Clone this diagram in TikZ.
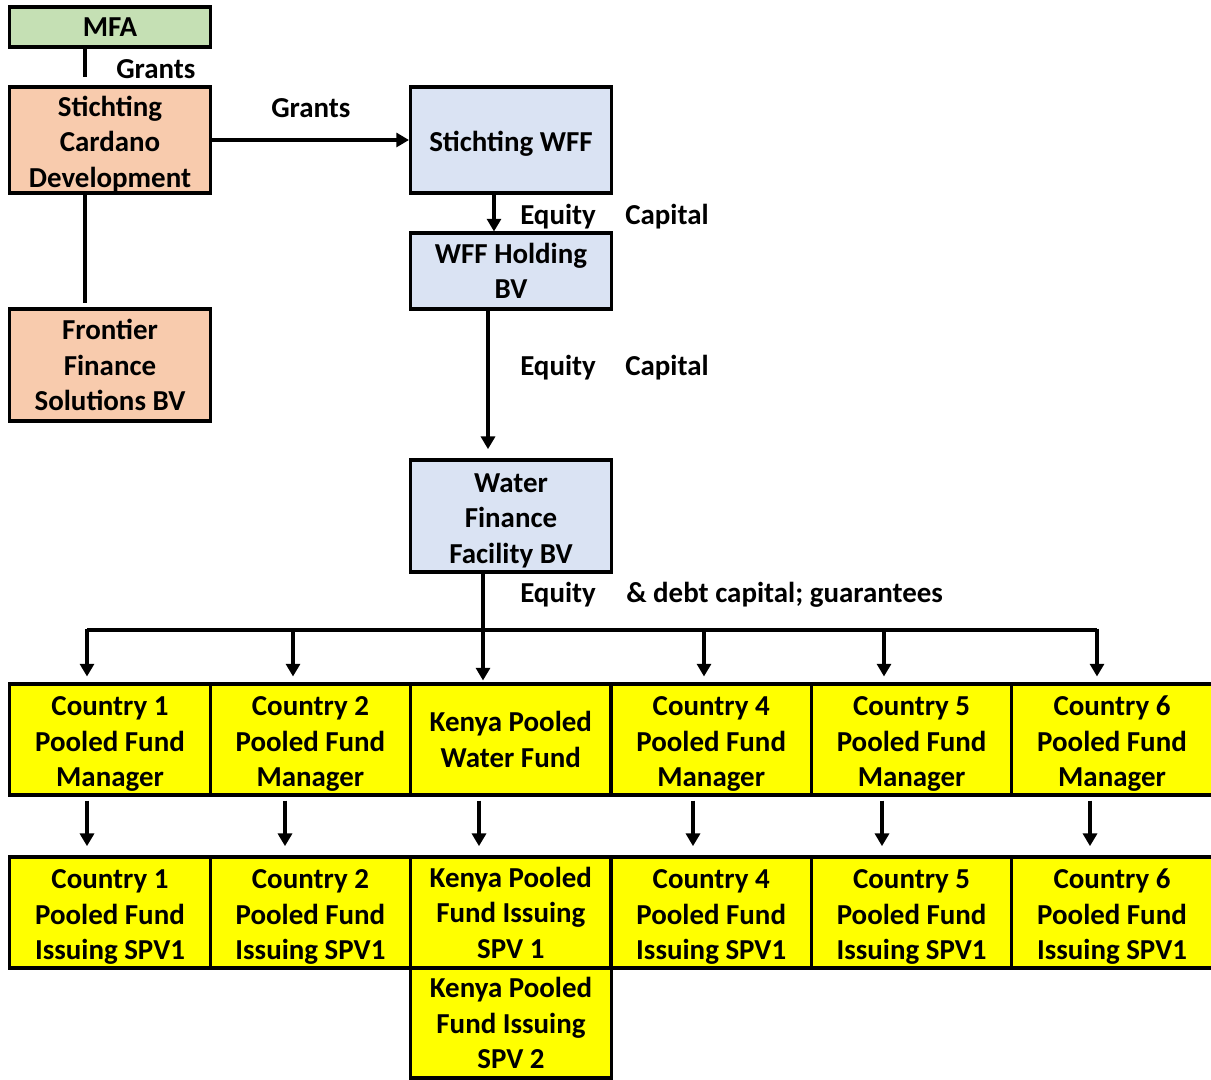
\documentclass[tikz,border=0pt]{standalone}
\usepackage{fontspec}
\setmainfont{Carlito}
\usetikzlibrary{arrows.meta}
\definecolor{mfagreen}{RGB}{197,224,180}
\definecolor{cardorange}{RGB}{248,203,173}
\definecolor{wffblue}{RGB}{218,227,243}
\definecolor{fundyellow}{RGB}{255,255,0}
\newcommand\topgap{\rule{0pt}{21pt}}

\tikzset{
  every node/.style={font=\bfseries\fontsize{21.7}{26.6}\selectfont},
  box/.style={draw, line width=2.3pt, align=center, inner sep=0pt, minimum width=150.75pt},
  greenbox/.style={box, fill=mfagreen},
  orangebox/.style={box, fill=cardorange},
  bluebox/.style={box, fill=wffblue},
  fundbox/.style={box, fill=fundyellow, minimum width=150.3pt, minimum height=83.25pt},
  link/.style={line width=2.3pt},
  flow/.style={link, -{Triangle[length=9.5pt,width=10.5pt]}},
  lab/.style={anchor=west, inner sep=0pt}
}

\begin{document}
\begin{tikzpicture}[x=0.75pt,y=-0.75pt]
\useasboundingbox (0,0) rectangle (1211,1080);

% top: owners
\node[greenbox, minimum height=30pt] (mfa) at (110,27) {MFA};
\node[orangebox, minimum height=79.5pt] (cardano) at (110,140) {\topgap Stichting\\Cardano\\Development};
\node[orangebox, minimum height=84pt] (frontier) at (110,365) {Frontier\\Finance\\Solutions BV};
\node[bluebox, minimum height=79.5pt] (swff) at (511,140) {\topgap Stichting WFF};
\node[bluebox, minimum height=57pt] (holding) at (511,271) {WFF Holding\\BV};
\node[bluebox, minimum height=84pt] (wffbv) at (511,516) {\topgap Water\\Finance\\Facility BV};

% funds and SPVs
\foreach \i/\t in {1/\topgap Country 1\\Pooled Fund\\Manager, 2/\topgap Country 2\\Pooled Fund\\Manager,
  3/Kenya Pooled\\Water Fund, 4/\topgap Country 4\\Pooled Fund\\Manager,
  5/\topgap Country 5\\Pooled Fund\\Manager, 6/\topgap Country 6\\Pooled Fund\\Manager}
  \node[fundbox] (m\i) at ({110+200.4*(\i-1)},739.5) {\t};
\foreach \i/\t in {1/\topgap Country 1\\Pooled Fund\\Issuing SPV1, 2/\topgap Country 2\\Pooled Fund\\Issuing SPV1,
  3/Kenya Pooled\\Fund Issuing\\SPV 1, 4/\topgap Country 4\\Pooled Fund\\Issuing SPV1,
  5/\topgap Country 5\\Pooled Fund\\Issuing SPV1, 6/\topgap Country 6\\Pooled Fund\\Issuing SPV1}
  \node[fundbox] (s\i) at ({110+200.4*(\i-1)},912.5) {\t};
\node[fundbox, minimum height=82.5pt] (spv2) at (511,1023) {Kenya Pooled\\Fund Issuing\\SPV 2};

% connectors
\coordinate (gstop) at (85,77);
\draw[link] (mfa.south -| gstop) -- (gstop);
\draw[link] (cardano.south -| gstop) -- ([yshift=3pt]frontier.north -| gstop);
\draw[flow] (cardano.east) -- (swff.west);
\coordinate (eq1) at (494,0);
\draw[flow] (swff.south -| eq1) -- (holding.north -| eq1);
\coordinate (eq2) at (488,0);
\draw[flow, shorten >=7pt] (holding.south -| eq2) -- (wffbv.north -| eq2);

\foreach \i/\ax in {1/87, 2/293, 3/483, 4/704, 5/884, 6/1097}
  \coordinate (tap\i) at (\ax,630);
\draw[link] (tap1) -- (tap6);
\foreach \i in {1,2,4,5,6}
  \draw[flow, shorten >=4.5pt] ([yshift=1.1pt]tap\i) -- (tap\i |- m\i.north);
\draw[flow, shorten >=1.5pt] (wffbv.south -| tap3) -- (tap3 |- m3.north);

\foreach \i/\dx in {1/87, 2/285, 3/479, 4/693, 5/882, 6/1090} {
  \coordinate (dn\i) at (\dx,0);
  \draw[flow, shorten <=3pt, shorten >=7pt] (m\i.south -| dn\i) -- (s\i.north -| dn\i);
}

% flow labels
\node[lab] (lgr1) at (116,69) {Grants};
\node[lab] (lgr2) at (271,108) {Grants};
\node[lab] (leq1) at (520,217) {Equity};
\node[lab] (lcap1) at (625,217) {Capital};
\node[lab] (leq2) at (520,368) {Equity};
\node[lab] (lcap2) at (625,368) {Capital};
\node[lab] (leq3) at (520,595) {Equity};
\node[lab] (ldebt) at (626,595) {\& debt capital; guarantees};
\end{tikzpicture}
\end{document}
